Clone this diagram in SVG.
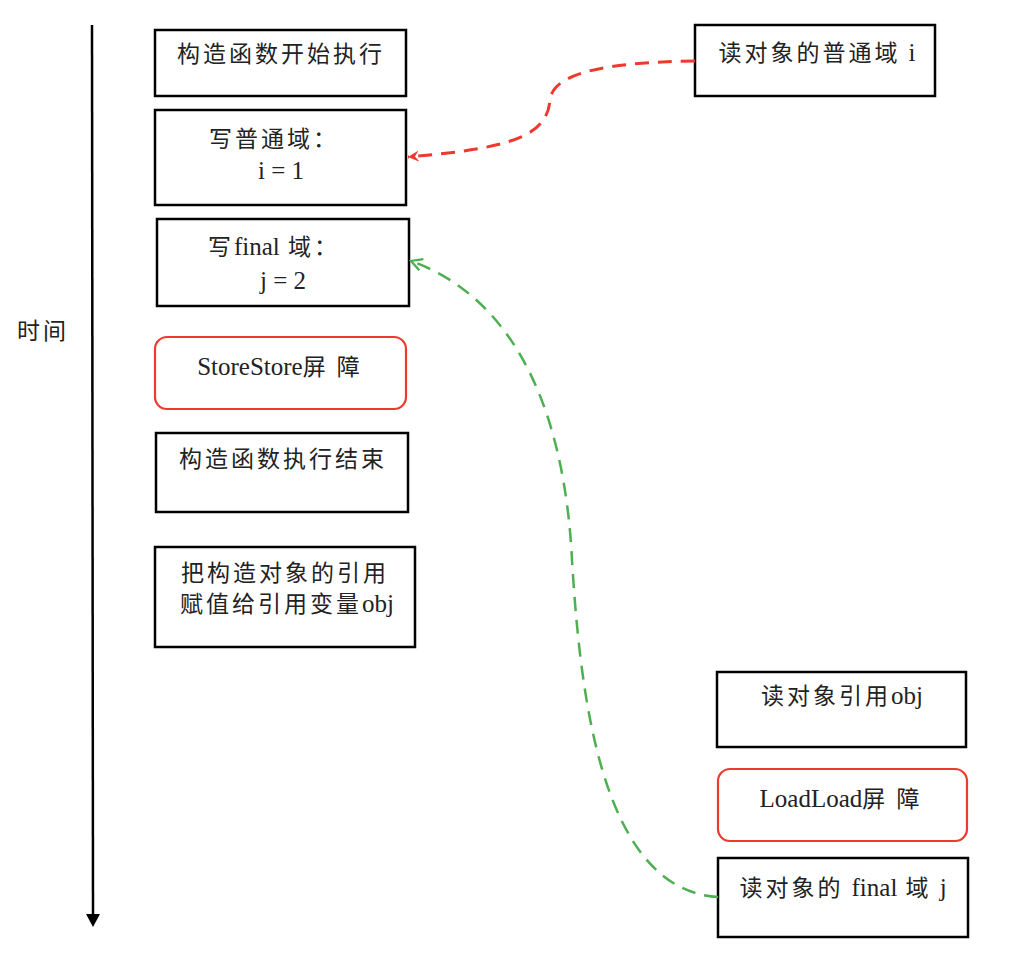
<svg xmlns="http://www.w3.org/2000/svg" width="1018" height="960" viewBox="0 0 1018 960">
<style>
.box{fill:#fff;stroke:#000;stroke-width:2.5}
.bar{fill:#fff;stroke:#ee3a2e;stroke-width:2.2}
.t{font-family:"Noto Sans CJK SC","Liberation Sans",sans-serif;font-size:23px;fill:#222;text-anchor:middle;letter-spacing:3px}
.l{font-family:"Liberation Serif","Noto Sans CJK SC",serif;font-size:25px;letter-spacing:0}
</style>
<defs>
<marker id="ar" viewBox="0 0 12 12" refX="11" refY="6" markerWidth="12" markerHeight="12" markerUnits="userSpaceOnUse" orient="auto">
<path d="M0,0.5 L11,6 L0,11.5 L4,6 Z" fill="#ee3a2e"/>
</marker>
<marker id="ag" viewBox="0 0 14 14" refX="12" refY="7" markerWidth="14" markerHeight="14" markerUnits="userSpaceOnUse" orient="auto">
<path d="M1,1 L12,7 L1,13" fill="none" stroke="#4caf50" stroke-width="2.2"/>
</marker>
</defs>
<g id="timeline">
<line x1="92" y1="25" x2="93" y2="916" stroke="#000" stroke-width="2.5"/>
<path d="M86,914 L100,914 L93,927 Z" fill="#000"/>
<text class="t" x="43" y="339">时间</text>
</g>
<g id="n1"><rect class="box" x="155" y="30" width="251" height="66"/><text class="t" x="281" y="62">构造函数开始执行</text></g>
<g id="n2"><rect class="box" x="155" y="110" width="251" height="95"/><text class="t" x="274" y="147">写普通域：</text><text class="t" x="281" y="179"><tspan class="l">i = 1</tspan></text></g>
<g id="n3"><rect class="box" x="157" y="219" width="252" height="87"/><text class="t" x="274" y="255">写<tspan class="l">final</tspan> 域：</text><text class="t" x="283" y="289"><tspan class="l">j = 2</tspan></text></g>
<g id="n4"><rect class="bar" x="155" y="337" width="251" height="72" rx="12"/><text class="t" x="280" y="375"><tspan class="l">StoreStore</tspan>屏 障</text></g>
<g id="n5"><rect class="box" x="156" y="433" width="252" height="79"/><text class="t" x="283" y="467">构造函数执行结束</text></g>
<g id="n6"><rect class="box" x="155" y="547" width="260" height="100"/><text class="t" x="285" y="581">把构造对象的引用</text><text class="t" x="287" y="612">赋值给引用变量<tspan class="l">obj</tspan></text></g>
<g id="n7"><rect class="box" x="695" y="25" width="240" height="71"/><text class="t" x="817" y="61">读对象的普通域 <tspan class="l">i</tspan></text></g>
<g id="n8"><rect class="box" x="717" y="672" width="249" height="75"/><text class="t" x="842" y="704">读对象引用<tspan class="l">obj</tspan></text></g>
<g id="n9"><rect class="bar" x="718" y="769" width="249" height="72" rx="12"/><text class="t" x="841" y="807"><tspan class="l">LoadLoad</tspan>屏 障</text></g>
<g id="n10"><rect class="box" x="718" y="858" width="250" height="79"/><text class="t" x="843" y="896">读对象的 <tspan class="l">final</tspan> 域 <tspan class="l">j</tspan></text></g>
<g id="connectors" fill="none" stroke-width="3" stroke-dasharray="14,9">
<path d="M695,61 C610,62 553,72 550,100 C547,135 515,148 408,157" stroke="#ee3a2e" marker-end="url(#ar)"/>
<path d="M718,897 C600,890 580,690 572,560 C565,420 520,300 411,261" stroke="#4caf50" marker-end="url(#ag)" stroke-width="2.5"/>
</g>
</svg>
